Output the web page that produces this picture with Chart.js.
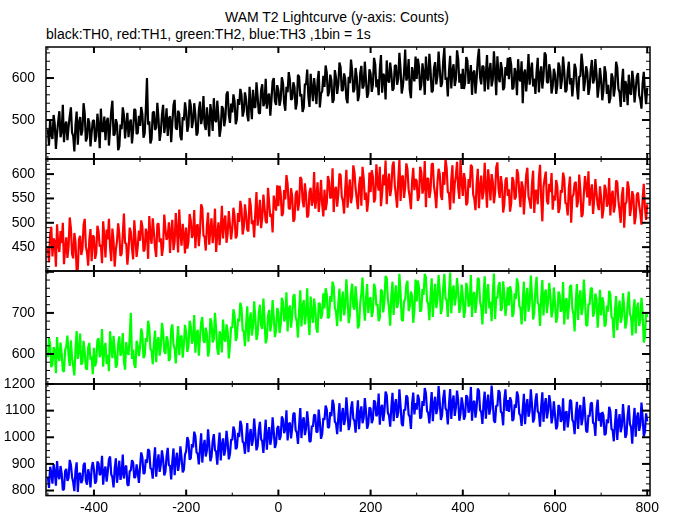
<!DOCTYPE html>
<html lang="en">
<head>
    <meta charset="UTF-8">
    <title>WAM T2 Lightcurve</title>
    <style>
        body {
            margin: 0;
            padding: 0;
            background: #ffffff;
            font-family: 'Liberation Sans', Arial, sans-serif;
        }
        .wrap {
            position: relative;
            width: 674px;
            height: 515px;
            background: #ffffff;
        }
        .wrap canvas {
            position: absolute;
            left: 0;
            top: 0;
        }
        .title {
            position: absolute;
            left: 0;
            width: 674px;
            top: 9px;
            text-align: center;
            font-size: 14px;
            color: #000;
        }
        .subtitle {
            position: absolute;
            left: 46px;
            top: 26px;
            font-size: 14px;
            color: #000;
            white-space: nowrap;
        }
    </style>
</head>
<body>
    <div class="wrap">
        <div class="title">WAM T2 Lightcurve (y-axis: Counts)</div>
        <div class="subtitle">black:TH0, red:TH1, green:TH2, blue:TH3 ,1bin = 1s</div>
        <canvas id="c0" width="674" height="515"></canvas>
        <canvas id="c1" width="674" height="515"></canvas>
        <canvas id="c2" width="674" height="515"></canvas>
        <canvas id="c3" width="674" height="515"></canvas>
    </div>

    <script src="https://cdn.jsdelivr.net/npm/chart.js"></script>
    <script>
        // light curve values, one value every 2.5 s starting at t = -500 s
        // (each row below = 100 s)
        const tStart = -500;
        const binSize = 2.5;

        const th0 = [
            478, 440, 502, 465, 455, 512, 490, 431, 468, 497, 521, 459, 473, 536, 447, 488, 496, 452, 484, 509, 530, 470, 462, 425, 489, 520, 441, 494, 507, 463, 476, 540, 515, 449, 458, 504, 493, 437, 470, 498,
            499, 448, 461, 515, 486, 433, 527, 474, 472, 508, 452, 495, 505, 439, 480, 521, 546, 463, 466, 502, 491, 428, 437, 489, 478, 530, 512, 456, 488, 517, 459, 493, 501, 444, 475, 526, 523, 467, 469, 510,
            486, 531, 514, 458, 468, 525, 600, 489, 497, 444, 455, 517, 520, 476, 482, 541, 503, 450, 471, 512, 536, 469, 490, 528, 462, 503, 509, 447, 493, 535, 548, 481, 477, 522, 515, 461, 452, 507, 499, 542,
            521, 472, 487, 549, 535, 481, 498, 540, 512, 463, 470, 524, 544, 490, 506, 557, 489, 476, 530, 498, 461, 538, 516, 474, 552, 501, 495, 546, 509, 460, 480, 533, 527, 485, 503, 561, 568, 512, 493, 539,
            518, 561, 545, 490, 502, 550, 536, 574, 560, 508, 521, 566, 549, 512, 497, 579, 538, 502, 572, 531, 530, 590, 556, 517, 515, 571, 585, 533, 541, 598, 527, 556, 563, 510, 548, 592, 600, 545, 536, 583,
            571, 534, 549, 602, 588, 541, 522, 579, 566, 614, 595, 548, 551, 590, 578, 525, 540, 608, 603, 556, 562, 519, 529, 586, 584, 620, 557, 531, 610, 575, 545, 600, 572, 538, 593, 617, 530, 563, 568, 605,
            579, 630, 612, 557, 566, 608, 594, 541, 548, 619, 601, 562, 585, 637, 625, 570, 571, 611, 598, 550, 540, 603, 588, 644, 617, 566, 573, 624, 603, 545, 559, 612, 629, 575, 581, 639, 596, 553, 564, 621,
            611, 567, 584, 648, 633, 578, 597, 559, 620, 655, 565, 610, 605, 549, 642, 596, 589, 637, 612, 570, 575, 629, 631, 584, 598, 660, 621, 563, 580, 612, 668, 594, 603, 645, 571, 552, 626, 606, 592, 651,
            598, 646, 627, 571, 583, 635, 612, 560, 651, 602, 594, 658, 619, 566, 570, 624, 638, 585, 605, 663, 622, 579, 587, 641, 672, 596, 601, 556, 616, 653, 575, 618, 633, 581, 597, 666, 645, 589, 610, 574,
            622, 574, 589, 650, 641, 586, 604, 631, 560, 612, 618, 563, 598, 645, 670, 601, 585, 629, 627, 568, 609, 655, 573, 616, 636, 580, 596, 664, 615, 559, 652, 603, 590, 638, 621, 571, 578, 626, 606, 648,
            597, 650, 631, 573, 577, 624, 612, 559, 645, 598, 592, 640, 540, 611, 620, 568, 603, 657, 584, 615, 637, 580, 599, 562, 615, 648, 566, 607, 628, 575, 604, 661, 655, 590, 589, 633, 614, 563, 581, 622,
            608, 562, 583, 637, 626, 574, 595, 651, 617, 566, 571, 615, 639, 585, 600, 556, 588, 634, 622, 578, 549, 603, 605, 658, 630, 569, 592, 628, 614, 560, 577, 620, 643, 587, 596, 645, 610, 553, 579, 624,
            596, 547, 571, 628, 613, 562, 584, 540, 552, 611, 602, 556, 578, 639, 625, 574, 566, 531, 590, 622, 543, 593, 581, 535, 608, 565, 560, 617, 594, 542, 573, 604, 612, 559, 548, 527, 586, 615, 569, 538,
            577
        ];

        const th1 = [
            448, 419, 476, 492, 431, 468, 462, 410, 497, 455, 440, 483, 458, 500, 415, 447, 470, 428, 452, 511, 489, 436, 427, 479, 461, 402, 405, 466, 473, 434, 446, 495, 508, 451, 439, 412, 466, 487, 421, 474,
            471, 426, 438, 494, 482, 451, 455, 417, 503, 470, 429, 486, 466, 508, 449, 421, 488, 463, 410, 445, 462, 499, 477, 432, 436, 475, 519, 458, 458, 414, 443, 490, 481, 447, 425, 505, 469, 430, 452, 484,
            463, 505, 492, 441, 445, 488, 478, 426, 514, 473, 457, 509, 481, 448, 430, 496, 499, 460, 468, 432, 451, 517, 487, 465, 472, 501, 438, 483, 506, 444, 461, 520, 484, 439, 527, 478, 453, 498, 476, 437,
            490, 447, 462, 518, 505, 469, 476, 526, 448, 492, 497, 452, 483, 538, 530, 474, 471, 443, 494, 521, 455, 486, 509, 458, 480, 529, 440, 477, 501, 454, 487, 535, 468, 503, 515, 459, 478, 524, 496, 466,
            488, 531, 513, 468, 474, 520, 502, 545, 529, 476, 491, 538, 517, 486, 482, 551, 536, 497, 505, 470, 522, 563, 494, 518, 547, 489, 510, 558, 531, 503, 499, 572, 541, 512, 518, 480, 556, 537, 525, 577,
            534, 576, 561, 514, 519, 567, 548, 598, 580, 530, 528, 571, 553, 502, 507, 559, 566, 525, 541, 594, 590, 546, 532, 581, 557, 511, 516, 563, 572, 535, 545, 604, 529, 552, 583, 522, 550, 588, 538, 513,
            568, 526, 541, 596, 585, 550, 553, 612, 522, 567, 574, 533, 560, 601, 598, 554, 545, 519, 571, 609, 531, 563, 589, 540, 556, 618, 604, 570, 549, 528, 577, 595, 535, 615, 592, 547, 562, 523, 546, 603,
            563, 608, 594, 542, 549, 620, 582, 566, 615, 534, 560, 599, 577, 628, 538, 583, 601, 555, 571, 617, 626, 577, 556, 531, 588, 630, 545, 593, 597, 551, 574, 622, 610, 568, 552, 528, 585, 613, 567, 590,
            586, 545, 553, 615, 604, 560, 571, 627, 532, 590, 592, 551, 566, 620, 622, 575, 558, 530, 583, 611, 600, 556, 547, 604, 578, 631, 612, 563, 561, 527, 589, 618, 540, 580, 596, 625, 571, 549, 629, 584,
            555, 602, 588, 536, 541, 590, 572, 619, 615, 558, 549, 526, 580, 611, 530, 574, 597, 548, 563, 623, 575, 531, 610, 582, 546, 600, 584, 540, 562, 614, 624, 569, 551, 596, 578, 521, 537, 587, 593, 555,
            569, 523, 541, 594, 586, 548, 553, 610, 600, 562, 532, 585, 575, 517, 559, 598, 613, 554, 544, 529, 580, 607, 520, 566, 566, 538, 592, 619, 549, 503, 574, 591, 605, 545, 538, 580, 563, 602, 527, 556,
            546, 588, 575, 520, 530, 567, 562, 603, 591, 541, 539, 515, 571, 595, 500, 553, 558, 581, 584, 532, 544, 599, 567, 512, 517, 560, 596, 574, 552, 606, 535, 563, 579, 518, 548, 590, 561, 537, 526, 575,
            552, 509, 527, 578, 570, 533, 541, 592, 515, 556, 566, 521, 535, 587, 583, 545, 524, 500, 556, 573, 490, 538, 543, 585, 571, 514, 529, 565, 555, 497, 512, 558, 562, 536, 520, 496, 549, 580, 531, 506,
            538
        ];

        const th2 = [
            592, 639, 624, 568, 575, 617, 608, 553, 641, 596, 583, 628, 601, 560, 557, 609, 619, 645, 596, 571, 633, 590, 570, 548, 612, 656, 588, 607, 650, 574, 579, 632, 604, 565, 562, 616, 627, 586, 594, 551,
            615, 570, 581, 634, 638, 592, 602, 661, 569, 613, 627, 576, 598, 558, 655, 619, 590, 644, 612, 567, 574, 625, 643, 596, 605, 651, 583, 562, 629, 604, 598, 640, 700, 588, 611, 574, 566, 632, 620, 595,
            617, 662, 648, 590, 596, 639, 630, 681, 664, 612, 608, 575, 625, 657, 580, 631, 641, 596, 619, 676, 655, 606, 601, 643, 634, 583, 589, 660, 672, 624, 613, 577, 628, 668, 597, 640, 645, 591, 622, 671,
            652, 605, 619, 681, 668, 625, 636, 695, 603, 648, 659, 596, 641, 676, 690, 633, 627, 664, 648, 594, 610, 687, 676, 628, 637, 700, 661, 612, 598, 655, 645, 604, 684, 639, 630, 672, 656, 589, 621, 666,
            663, 709, 694, 632, 641, 686, 679, 725, 712, 658, 655, 619, 672, 716, 630, 680, 701, 645, 667, 728, 687, 634, 648, 701, 720, 669, 661, 735, 682, 626, 639, 692, 707, 655, 676, 731, 690, 641, 657, 712,
            703, 651, 671, 737, 726, 679, 689, 750, 655, 708, 718, 664, 694, 741, 745, 689, 680, 640, 706, 755, 667, 715, 731, 672, 698, 760, 684, 646, 740, 699, 676, 735, 710, 661, 652, 724, 722, 686, 697, 748,
            711, 760, 745, 687, 690, 741, 727, 776, 765, 712, 703, 668, 723, 759, 679, 730, 752, 694, 716, 782, 738, 675, 694, 748, 771, 716, 708, 765, 729, 662, 671, 724, 748, 786, 720, 681, 735, 770, 700, 733,
            738, 690, 704, 771, 760, 718, 721, 680, 688, 757, 752, 701, 729, 790, 785, 733, 712, 669, 741, 776, 695, 739, 767, 712, 725, 795, 749, 684, 680, 728, 733, 768, 778, 705, 716, 752, 742, 676, 706, 781,
            728, 779, 762, 703, 707, 758, 744, 795, 786, 729, 722, 682, 739, 784, 690, 741, 771, 712, 733, 792, 755, 697, 711, 762, 795, 736, 730, 690, 748, 798, 699, 751, 767, 718, 738, 785, 752, 700, 716, 769,
            740, 688, 706, 773, 758, 715, 723, 792, 690, 744, 751, 700, 731, 785, 782, 727, 714, 672, 743, 789, 698, 750, 770, 711, 727, 680, 745, 796, 685, 738, 736, 767, 775, 705, 712, 777, 748, 693, 720, 762,
            718, 765, 752, 690, 699, 748, 734, 784, 770, 717, 712, 672, 729, 776, 680, 739, 761, 703, 723, 791, 745, 684, 701, 758, 788, 725, 719, 668, 738, 780, 694, 746, 757, 700, 728, 773, 742, 689, 706, 762,
            725, 676, 690, 752, 744, 703, 708, 775, 672, 727, 736, 684, 714, 764, 768, 710, 697, 655, 729, 770, 683, 738, 755, 695, 711, 781, 733, 671, 668, 722, 720, 759, 761, 691, 700, 747, 735, 664, 705, 756,
            694, 738, 726, 667, 672, 718, 703, 754, 745, 690, 686, 639, 707, 741, 658, 705, 730, 676, 691, 748, 714, 662, 676, 722, 752, 697, 689, 645, 708, 733, 650, 710, 725, 668, 682, 737, 700, 628, 640, 702,
            690
        ];

        const th3 = [
            852, 810, 889, 868, 826, 899, 870, 818, 911, 856, 843, 892, 864, 801, 805, 873, 881, 836, 848, 915, 897, 851, 831, 798, 875, 906, 795, 862, 866, 828, 840, 896, 904, 837, 822, 880, 858, 812, 884, 907,
            878, 826, 836, 909, 901, 858, 865, 930, 822, 874, 890, 833, 871, 917, 928, 861, 850, 812, 882, 921, 829, 869, 912, 840, 863, 935, 845, 884, 894, 823, 818, 872, 876, 914, 905, 847, 852, 898, 868, 829,
            889, 943, 925, 862, 867, 917, 904, 956, 948, 884, 880, 845, 911, 962, 852, 903, 936, 870, 897, 951, 918, 857, 871, 928, 960, 895, 893, 842, 909, 958, 858, 912, 942, 874, 901, 966, 925, 868, 878, 935,
            948, 1001, 987, 916, 921, 974, 962, 1021, 1005, 943, 939, 898, 958, 1015, 905, 966, 990, 928, 951, 1030, 975, 910, 927, 985, 1012, 952, 946, 897, 968, 1018, 913, 971, 996, 931, 955, 1024, 982, 917, 937, 992,
            989, 1040, 1024, 955, 962, 1017, 1001, 1062, 1045, 984, 978, 938, 996, 1053, 944, 1006, 1031, 968, 992, 1070, 1015, 951, 967, 1028, 1058, 993, 985, 941, 1007, 1066, 953, 1012, 1038, 972, 998, 1075, 1020, 960, 976, 1034,
            1042, 990, 1003, 1078, 1066, 1015, 1030, 1101, 988, 1049, 1055, 996, 1036, 1088, 1092, 1026, 1018, 975, 1047, 1110, 997, 1060, 1075, 1008, 1033, 1097, 1051, 983, 985, 1043, 1040, 1085, 1083, 1019, 1021, 1104, 1057, 994, 1012, 1072,
            1065, 1119, 1104, 1036, 1038, 1095, 1079, 1141, 1122, 1058, 1052, 1012, 1074, 1128, 1021, 1083, 1110, 1046, 1068, 1150, 1093, 1027, 1045, 1108, 1135, 1070, 1061, 1017, 1085, 1139, 1030, 1091, 1116, 1053, 1072, 1147, 1098, 1032, 1050, 1112,
            1107, 1053, 1068, 1139, 1131, 1079, 1090, 1164, 1047, 1110, 1122, 1061, 1098, 1172, 1158, 1092, 1081, 1040, 1112, 1167, 1060, 1120, 1143, 1073, 1094, 1180, 1118, 1051, 1042, 1104, 1101, 1157, 1150, 1085, 1077, 1031, 1126, 1168, 1086, 1128,
            1104, 1160, 1143, 1071, 1075, 1136, 1118, 1185, 1165, 1098, 1091, 1052, 1115, 1170, 1060, 1124, 1152, 1087, 1107, 1192, 1132, 1065, 1083, 1147, 1178, 1109, 1100, 1048, 1125, 1181, 1069, 1133, 1157, 1080, 1111, 1175, 1138, 1062, 1088, 1150,
            1122, 1066, 1081, 1158, 1149, 1092, 1106, 1189, 1062, 1130, 1137, 1074, 1113, 1183, 1175, 1102, 1095, 1050, 1128, 1171, 1070, 1125, 1160, 1085, 1109, 1194, 1134, 1063, 1055, 1119, 1117, 1177, 1168, 1096, 1091, 1045, 1142, 1180, 1099, 1140,
            1095, 1150, 1136, 1061, 1068, 1124, 1110, 1172, 1154, 1088, 1082, 1043, 1106, 1163, 1049, 1115, 1143, 1077, 1098, 1180, 1123, 1056, 1072, 1138, 1165, 1097, 1090, 1040, 1116, 1169, 1058, 1120, 1147, 1071, 1101, 1158, 1128, 1052, 1079, 1135,
            1084, 1030, 1043, 1121, 1112, 1058, 1069, 1146, 1025, 1090, 1098, 1037, 1075, 1140, 1137, 1066, 1056, 1012, 1089, 1133, 1031, 1097, 1121, 1045, 1070, 1152, 1095, 1024, 1018, 1083, 1078, 1127, 1130, 1054, 1052, 1005, 1104, 1141, 1061, 1092,
            1040, 1095, 1082, 1008, 1013, 1067, 1053, 1114, 1098, 1031, 1026, 985, 1049, 1106, 990, 1058, 1087, 1019, 1043, 1125, 1068, 998, 1011, 1081, 1120, 1050, 1037, 976, 1061, 1110, 1002, 1072, 1093, 1024, 1046, 1130, 1075, 1003, 1021, 1090,
            1060
        ];

        // tick labels
        const xTickValues = [-400, -200, 0, 200, 400, 600, 800];
        const th0Ticks = [500, 600];
        const th1Ticks = [450, 500, 550, 600];
        const th2Ticks = [600, 700];
        const th3Ticks = [800, 900, 1000, 1100, 1200];

        const panels = [
            { id: 'c0', values: th0, ticks: th0Ticks, color: '#000000', min: 407, max: 674, minor: 20, major: 100, top: 47, bottom: 159 },
            { id: 'c1', values: th1, ticks: th1Ticks, color: '#ff0000', min: 401, max: 631, minor: 10, major: 50, top: 159, bottom: 271 },
            { id: 'c2', values: th2, ticks: th2Ticks, color: '#00ff00', min: 527, max: 802, minor: 20, major: 100, top: 271, bottom: 384 },
            { id: 'c3', values: th3, ticks: th3Ticks, color: '#0000ff', min: 781, max: 1200, minor: 25, major: 100, top: 384, bottom: 496 }
        ];

        const W = 674, H = 515;
        const axisFont = { family: "'Liberation Sans', Arial, sans-serif", size: 14 };

        // frame box + inward tick marks, the way the old plotting package draws them
        const frameTicks = {
            id: 'frameTicks',
            afterDraw(chart, args, opts) {
                const { ctx, chartArea: a } = chart;
                const x = chart.scales.x;
                const y = chart.scales.y;
                const seg = (x1, y1, x2, y2) => {
                    ctx.beginPath();
                    ctx.moveTo(x1, y1);
                    ctx.lineTo(x2, y2);
                    ctx.stroke();
                };
                ctx.save();
                ctx.strokeStyle = '#000';
                ctx.lineWidth = 1.5;
                ctx.strokeRect(a.left, a.top, a.right - a.left, a.bottom - a.top);

                for (let v = -500; v <= 800; v += 100) {
                    const px = x.getPixelForValue(v);
                    const major = v % 200 === 0;
                    const len = major ? 6 : 3;
                    ctx.lineWidth = major ? 2 : 1;
                    seg(px, a.top, px, a.top + len);
                    seg(px, a.bottom, px, a.bottom - len);
                }

                const first = Math.ceil(y.min / opts.minor) * opts.minor;
                for (let v = first; v <= y.max; v += opts.minor) {
                    const py = y.getPixelForValue(v);
                    const major = v % opts.major === 0;
                    const len = major ? 8 : 4;
                    ctx.lineWidth = major ? 2 : 1;
                    seg(a.left, py, a.left + len, py);
                    seg(a.right, py, a.right - len, py);
                }
                ctx.restore();
            }
        };

        panels.forEach((p, idx) => {
            const isLast = idx === panels.length - 1;
            const points = p.values.map((v, i) => ({ x: tStart + i * binSize, y: v }));

            const xScale = {
                type: 'linear',
                min: -504,
                max: 806,
                display: isLast,
                grid: { display: false, drawTicks: false },
                border: { display: false },
                afterBuildTicks: (scale) => {
                    scale.ticks = xTickValues.map(v => ({ value: v }));
                },
                ticks: {
                    color: '#000',
                    font: axisFont,
                    padding: 4,
                    maxRotation: 0,
                    autoSkip: false,
                    callback: (v) => String(v)
                }
            };
            if (isLast) {
                xScale.afterFit = (scale) => { scale.height = H - p.bottom; };
            }

            new Chart(document.getElementById(p.id), {
                type: 'line',
                data: {
                    datasets: [{
                        data: points,
                        borderColor: p.color,
                        borderWidth: 2.2,
                        borderJoinStyle: 'bevel',
                        pointRadius: 0,
                        tension: 0,
                        fill: false
                    }]
                },
                options: {
                    responsive: false,
                    animation: false,
                    events: [],
                    layout: {
                        padding: { top: p.top, bottom: isLast ? 0 : H - p.bottom, left: 0, right: 24 }
                    },
                    plugins: {
                        legend: { display: false },
                        tooltip: { enabled: false },
                        frameTicks: { minor: p.minor, major: p.major }
                    },
                    scales: {
                        x: xScale,
                        y: {
                            type: 'linear',
                            position: 'left',
                            min: p.min,
                            max: p.max,
                            grid: { display: false, drawTicks: false },
                            border: { display: false },
                            afterBuildTicks: (scale) => {
                                scale.ticks = p.ticks.map(v => ({ value: v }));
                            },
                            afterFit: (scale) => { scale.width = 46; },
                            ticks: {
                                color: '#000',
                                font: axisFont,
                                padding: 11,
                                autoSkip: false,
                                callback: (v) => String(v)
                            }
                        }
                    }
                },
                plugins: [frameTicks]
            });
        });
    </script>
</body>
</html>
